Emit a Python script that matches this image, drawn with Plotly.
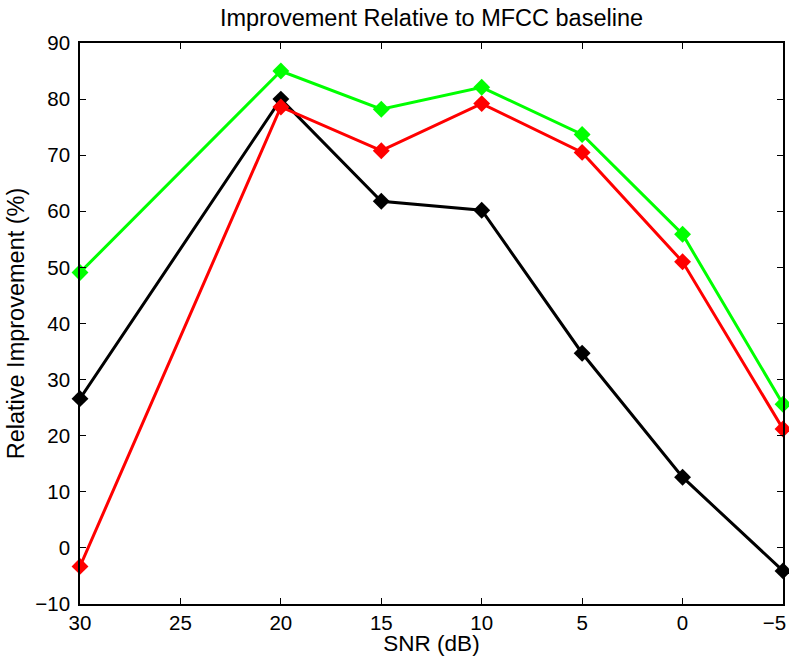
import plotly.graph_objects as go

snr = [30, 20, 15, 10, 5, 0, -5]
black_vals = [26.6, 80.0, 61.8, 60.2, 34.7, 12.6, -4.1]
red_vals = [-3.3, 78.6, 70.8, 79.2, 70.5, 51.0, 21.2]
green_vals = [49.1, 85.0, 78.2, 82.1, 73.7, 55.9, 25.6]

x_ticks = [30, 25, 20, 15, 10, 5, 0, -5]
x_ticklabels = ["30", "25", "20", "15", "10", "5", "0", "\u22125\u00a0\u00a0\u00a0"]
y_ticks = [-10, 0, 10, 20, 30, 40, 50, 60, 70, 80, 90]

FONT = "Liberation Sans, Arial, Helvetica, sans-serif"

fig = go.Figure()
for vals, col in [(black_vals, "#000000"), (red_vals, "#ff0000"), (green_vals, "#00ff00")]:
    fig.add_trace(go.Scatter(
        x=snr, y=vals, mode="lines+markers",
        line=dict(color=col, width=3),
        marker=dict(symbol="diamond", size=13, color=col, line=dict(width=0)),
        showlegend=False, cliponaxis=False,
    ))

axis_common = dict(
    showgrid=False, zeroline=False, showline=True, linecolor="black", linewidth=1.5,
    mirror="ticks", ticks="inside", ticklen=6, tickwidth=1, tickcolor="black",
    tickfont=dict(family=FONT, size=20.5, color="black"), automargin=False,
)

fig.update_layout(
    width=789, height=656,
    margin=dict(l=80, r=6, t=43, b=52),
    paper_bgcolor="white", plot_bgcolor="white",
    font=dict(family=FONT, color="black"),
    title=dict(text="Improvement Relative to MFCC baseline", x=0.5, xanchor="center",
               xref="paper", y=1 - 18 / 656, yref="container", yanchor="middle",
               font=dict(size=23.5, family=FONT, color="black")),
    xaxis=dict(range=[30, -5], tickvals=x_ticks, ticktext=x_ticklabels,
               title=dict(text="SNR (dB)", font=dict(size=22.5, family=FONT), standoff=0),
               ticklabelstandoff=0, ticklabeloverflow="allow", **axis_common),
    yaxis=dict(range=[-10, 90], tickvals=y_ticks, ticktext=[str(v).replace("-", "\u2212") for v in y_ticks],
               title=dict(text="Relative Improvement (%)", font=dict(size=23.5, family=FONT), standoff=4),
               ticklabelstandoff=4, ticklabeloverflow="allow", **axis_common),
)

fig.write_html("out.html")
